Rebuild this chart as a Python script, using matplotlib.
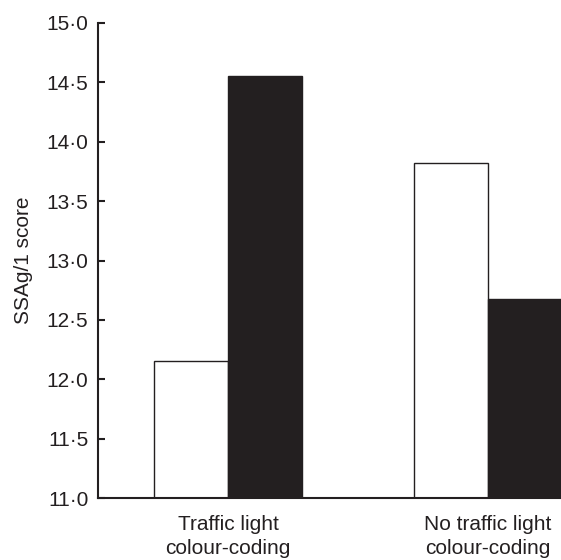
import matplotlib
matplotlib.use("Agg")
import matplotlib.pyplot as plt
from matplotlib.ticker import FuncFormatter

groups = ["Traffic light\ncolour-coding", "No traffic light\ncolour-coding"]
white_vals = [12.15, 13.82]
black_vals = [14.55, 12.68]
yticks = [11.0, 11.5, 12.0, 12.5, 13.0, 13.5, 14.0, 14.5, 15.0]

ink = "#231f20"
plt.rcParams['font.family'] = ['Liberation Sans', 'DejaVu Sans']

fig = plt.figure(figsize=(5.61, 5.60), dpi=100)
ax = fig.add_axes([98/561, 1 - 498/560, 1 - 98/561, (498 - 23)/560])

w = 0.285
x = list(range(len(groups)))
ax.bar([i - w/2 for i in x], white_vals, width=w, color="white", edgecolor=ink, linewidth=1.0)
ax.bar([i + w/2 for i in x], black_vals, width=w, color=ink, edgecolor=ink, linewidth=1.0)

ax.set_ylim(11.0, 15.0)
ax.set_xlim(-0.5, 1.28)
ax.set_yticks(yticks)
ax.yaxis.set_major_formatter(FuncFormatter(lambda v, p: f"{v:.1f}".replace(".", "\u00b7")))
ax.set_xticks(x)
ax.set_xticklabels(groups, fontsize=15, color=ink, linespacing=1.35)
ax.tick_params(axis='x', length=0, pad=12)
ax.tick_params(axis='y', direction='in', length=5, width=1.5, colors=ink, labelsize=15, pad=7)
for s in ['top', 'right']:
    ax.spines[s].set_visible(False)
for s in ['left', 'bottom']:
    ax.spines[s].set_linewidth(1.5)
    ax.spines[s].set_color(ink)
ax.set_ylabel("SSAg/1 score", fontsize=15, color=ink, labelpad=10)

fig.savefig("out.png", dpi=100)
